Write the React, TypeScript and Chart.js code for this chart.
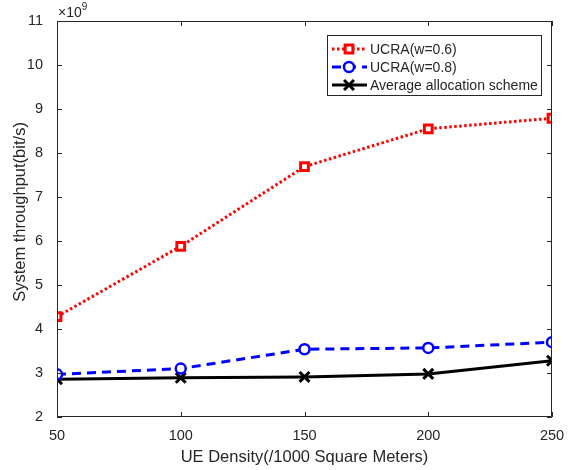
import React, { useEffect, useRef } from "react";
import { Chart, registerables } from "chart.js";

Chart.register(...registerables);

const densities = [50, 100, 150, 200, 250];
const ucra06 = [4.28, 5.88, 7.69, 8.55, 8.79];
const ucra08 = [2.97, 3.1, 3.54, 3.57, 3.7];
const averageScheme = [2.86, 2.89, 2.91, 2.98, 3.28];
const xTicks = [50, 100, 150, 200, 250];
const yTicks = [2, 3, 4, 5, 6, 7, 8, 9, 10, 11];
const seriesLabels = ["UCRA(w=0.6)", "UCRA(w=0.8)", "Average allocation scheme"];
const xTitle = "UE Density(/1000 Square Meters)";
const yTitle = "System throughput(bit/s)";

const FONT = "'Liberation Sans', Arial, Helvetica, sans-serif";
const TEXT = "#262626";
const AXIS = "#262626";

function drawMarker(ctx: CanvasRenderingContext2D, ds: any, x: number, y: number) {
  const r = ds.pointRadius;
  ctx.save();
  ctx.setLineDash([]);
  ctx.lineWidth = ds.pointBorderWidth;
  ctx.strokeStyle = ds.pointBorderColor;
  ctx.fillStyle = ds.pointBackgroundColor;
  ctx.beginPath();
  if (ds.pointStyle === "rect") {
    ctx.rect(x - r * 0.707, y - r * 0.707, r * 1.414, r * 1.414);
    ctx.fill();
    ctx.stroke();
  } else if (ds.pointStyle === "circle") {
    ctx.arc(x, y, r, 0, Math.PI * 2);
    ctx.fill();
    ctx.stroke();
  } else {
    const d = r * 0.707;
    ctx.moveTo(x - d, y - d);
    ctx.lineTo(x + d, y + d);
    ctx.moveTo(x + d, y - d);
    ctx.lineTo(x - d, y + d);
    ctx.stroke();
  }
  ctx.restore();
}

const framePlugin = {
  id: "frame",
  afterDraw(chart: any) {
    const ctx = chart.ctx;
    const { left, right, top, bottom } = chart.chartArea;
    const xs = chart.scales.x;
    const ys = chart.scales.y;
    ctx.save();
    ctx.strokeStyle = AXIS;
    ctx.lineWidth = 1;
    ctx.beginPath();
    ctx.rect(left + 0.5, top + 0.5, right - left - 1, bottom - top - 1);
    ctx.stroke();
    const tl = 5;
    ctx.beginPath();
    for (const v of xTicks) {
      const px = Math.round(xs.getPixelForValue(v)) + 0.5;
      ctx.moveTo(px, bottom);
      ctx.lineTo(px, bottom - tl);
      ctx.moveTo(px, top);
      ctx.lineTo(px, top + tl);
    }
    for (const v of yTicks) {
      const py = Math.round(ys.getPixelForValue(v)) + 0.5;
      ctx.moveTo(left, py);
      ctx.lineTo(left + tl, py);
      ctx.moveTo(right, py);
      ctx.lineTo(right - tl, py);
    }
    ctx.stroke();

    // exponent label
    ctx.fillStyle = TEXT;
    ctx.textBaseline = "alphabetic";
    ctx.textAlign = "left";
    ctx.font = `14px ${FONT}`;
    ctx.fillText("\u00d710", left + 1, top - 4);
    const w = ctx.measureText("\u00d710").width;
    ctx.font = `10px ${FONT}`;
    ctx.fillText("9", left + 1 + w, top - 11);

    // axis titles
    ctx.font = `16.5px ${FONT}`;
    ctx.textAlign = "center";
    ctx.textBaseline = "middle";
    ctx.fillText(xTitle, (left + right) / 2, 457);
    ctx.save();
    ctx.translate(20, 212);
    ctx.rotate(-Math.PI / 2);
    ctx.fillText(yTitle, 0, 0);
    ctx.restore();

    // legend
    const lx = 327, ly = 35, lw = 214, lh = 60;
    ctx.fillStyle = "#ffffff";
    ctx.fillRect(lx, ly, lw, lh);
    ctx.strokeStyle = AXIS;
    ctx.lineWidth = 1;
    ctx.strokeRect(lx + 0.5, ly + 0.5, lw, lh);
    const rowY = [ly + 14, ly + 32, ly + 50];
    chart.data.datasets.forEach((ds: any, i: number) => {
      const y = rowY[i];
      ctx.save();
      ctx.strokeStyle = ds.borderColor;
      ctx.lineWidth = ds.borderWidth;
      ctx.setLineDash(ds.borderDash || []);
      ctx.beginPath();
      ctx.moveTo(lx + 5, y);
      ctx.lineTo(lx + 40, y);
      ctx.stroke();
      ctx.restore();
      drawMarker(ctx, ds, lx + 22, y);
      ctx.fillStyle = TEXT;
      ctx.font = `14px ${FONT}`;
      ctx.textAlign = "left";
      ctx.textBaseline = "middle";
      ctx.fillText(ds.label, lx + 43, y + 1);
    });
    ctx.restore();
  },
};

export default function App() {
  const ref = useRef<HTMLCanvasElement>(null);
  useEffect(() => {
    if (!ref.current) return;
    const mk = (arr: number[]) => arr.map((v, i) => ({ x: densities[i], y: v }));
    const chart = new Chart(ref.current, {
      type: "line",
      data: {
        datasets: [
          {
            label: seriesLabels[0],
            data: mk(ucra06),
            borderColor: "#ff0000",
            borderWidth: 3,
            borderDash: [2.5, 2.5],
            pointStyle: "rect",
            pointRadius: 5.5,
            pointBorderWidth: 3,
            pointBorderColor: "#ff0000",
            pointBackgroundColor: "#ffffff",
          },
          {
            label: seriesLabels[1],
            data: mk(ucra08),
            borderColor: "#0000ff",
            borderWidth: 3,
            borderDash: [9, 6],
            pointStyle: "circle",
            pointRadius: 5,
            pointBorderWidth: 2.5,
            pointBorderColor: "#0000ff",
            pointBackgroundColor: "#ffffff",
          },
          {
            label: seriesLabels[2],
            data: mk(averageScheme),
            borderColor: "#000000",
            borderWidth: 3,
            pointStyle: "crossRot",
            pointRadius: 7,
            pointBorderWidth: 3,
            pointBorderColor: "#000000",
            pointBackgroundColor: "#000000",
          },
        ] as any,
      },
      options: {
        animation: false,
        responsive: false,
        layout: { padding: { top: 21, right: 17, left: 0, bottom: 0 } },
        plugins: { legend: { display: false }, tooltip: { enabled: false } },
        scales: {
          x: {
            type: "linear",
            min: 50,
            max: 250,
            grid: { display: false },
            border: { display: false },
            afterFit: (s: any) => {
              s.height = 53;
            },
            afterBuildTicks: (s: any) => {
              s.ticks = xTicks.map((v) => ({ value: v }));
            },
            ticks: {
              padding: 2,
              color: TEXT,
              font: { family: FONT, size: 14.5 },
              maxRotation: 0,
            },
          },
          y: {
            type: "linear",
            min: 2,
            max: 11,
            grid: { display: false },
            border: { display: false },
            afterFit: (s: any) => {
              s.width = 57;
            },
            afterBuildTicks: (s: any) => {
              s.ticks = yTicks.map((v) => ({ value: v }));
            },
            ticks: {
              padding: 6,
              color: TEXT,
              font: { family: FONT, size: 14.5 },
            },
          },
        },
      } as any,
      plugins: [framePlugin],
    });
    return () => chart.destroy();
  }, []);
  return (
    <div style={{ position: "fixed", left: 0, top: 0, width: 569, height: 470, background: "#fff" }}>
      <canvas ref={ref} width={569} height={470} />
    </div>
  );
}
